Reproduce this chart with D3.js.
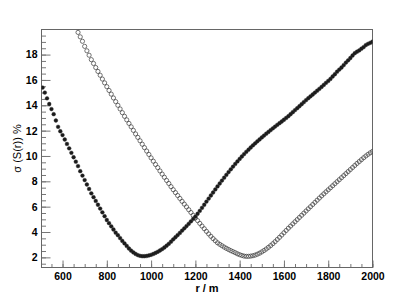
<!DOCTYPE html>
<html>
<head>
<meta charset="utf-8">
<script src="https://cdn.jsdelivr.net/npm/d3@7"></script>
<style>
  body { margin: 0; background: #fff; }
  svg { display: block; font-family: "Liberation Sans", Arial, sans-serif; }
</style>
</head>
<body>
<script>
  var width = 415;
  var height = 298;

  // filled circles
  var rFilled = [510,520,530,540,550,560,570,580,590,600,610,620,630,640,650,660,670,680,690,700,
    710,720,730,740,750,760,770,780,790,800,810,820,830,840,850,860,870,880,890,900,
    910,920,930,940,950,960,970,980,990,1000,1010,1020,1030,1040,1050,1060,1070,1080,1090,1100,
    1110,1120,1130,1140,1150,1160,1170,1180,1190,1200,1210,1220,1230,1240,1250,1260,1270,1280,1290,1300,
    1310,1320,1330,1340,1350,1360,1370,1380,1390,1400,1410,1420,1430,1440,1450,1460,1470,1480,1490,1500,
    1510,1520,1530,1540,1550,1560,1570,1580,1590,1600,1610,1620,1630,1640,1650,1660,1670,1680,1690,1700,
    1710,1720,1730,1740,1750,1760,1770,1780,1790,1800,1810,1820,1830,1840,1850,1860,1870,1880,1890,1900,
    1910,1920,1930,1940,1950,1960,1970,1980,1990,2000];
  var sigmaFilled = [15.4,15.0,14.55,14.1,13.7,13.3,12.8,12.3,11.95,11.65,11.3,10.95,10.6,10.25,9.9,9.55,9.2,8.8,8.45,8.1,
    7.75,7.4,7.05,6.75,6.45,6.15,5.85,5.55,5.25,4.95,4.7,4.45,4.2,3.95,3.75,3.52,3.3,3.1,2.9,2.7,
    2.53,2.39,2.27,2.18,2.12,2.09,2.09,2.11,2.15,2.2,2.27,2.35,2.44,2.54,2.65,2.78,2.92,3.07,3.24,3.42,
    3.59,3.76,3.93,4.11,4.29,4.47,4.65,4.84,5.03,5.22,5.44,5.67,5.91,6.15,6.4,6.64,6.88,7.12,7.36,7.6,
    7.83,8.06,8.29,8.51,8.73,8.95,9.16,9.37,9.57,9.77,9.96,10.15,10.33,10.5,10.67,10.84,11.0,11.16,11.31,11.46,
    11.61,11.76,11.9,12.04,12.18,12.32,12.46,12.59,12.72,12.86,13.0,13.14,13.3,13.46,13.62,13.77,13.93,14.09,14.25,14.41,
    14.56,14.71,14.85,15.0,15.15,15.3,15.45,15.61,15.77,15.92,16.08,16.27,16.45,16.65,16.82,16.98,17.17,17.37,17.55,17.73,
    17.93,18.11,18.23,18.33,18.47,18.59,18.75,18.85,18.93,19.03];

  // open circles
  var rOpen = [670,680,690,700,710,720,730,740,750,760,770,780,790,800,810,820,830,840,850,860,
    870,880,890,900,910,920,930,940,950,960,970,980,990,1000,1010,1020,1030,1040,1050,1060,
    1070,1080,1090,1100,1110,1120,1130,1140,1150,1160,1170,1180,1190,1200,1210,1220,1230,1240,1250,1260,
    1270,1280,1290,1300,1310,1320,1330,1340,1350,1360,1370,1380,1390,1400,1410,1420,1430,1440,1450,1460,
    1470,1480,1490,1500,1510,1520,1530,1540,1550,1560,1570,1580,1590,1600,1610,1620,1630,1640,1650,1660,
    1670,1680,1690,1700,1710,1720,1730,1740,1750,1760,1770,1780,1790,1800,1810,1820,1830,1840,1850,1860,
    1870,1880,1890,1900,1910,1920,1930,1940,1950,1960,1970,1980,1990,2000];
  var sigmaOpen = [19.75,19.4,19.05,18.65,18.3,17.95,17.6,17.3,16.98,16.67,16.37,16.07,15.77,15.47,15.17,14.88,14.58,14.29,14.0,13.71,
    13.42,13.13,12.85,12.57,12.3,12.02,11.74,11.47,11.2,10.93,10.66,10.39,10.12,9.85,9.59,9.33,9.08,8.82,8.57,8.32,
    8.07,7.83,7.58,7.34,7.11,6.88,6.65,6.42,6.2,5.98,5.76,5.54,5.32,5.11,4.9,4.68,4.47,4.26,4.05,3.85,
    3.66,3.48,3.31,3.15,3.03,2.92,2.81,2.71,2.62,2.53,2.45,2.37,2.28,2.21,2.15,2.1,2.08,2.08,2.1,2.13,
    2.18,2.25,2.33,2.43,2.54,2.66,2.79,2.93,3.08,3.24,3.41,3.58,3.76,3.94,4.12,4.3,4.47,4.64,4.81,4.98,
    5.15,5.32,5.49,5.66,5.83,6.0,6.17,6.34,6.51,6.68,6.85,7.01,7.17,7.33,7.49,7.65,7.81,7.97,8.13,8.29,
    8.45,8.61,8.77,8.93,9.09,9.25,9.41,9.56,9.71,9.86,10.0,10.13,10.25,10.36];

  var xTicks = [600, 800, 1000, 1200, 1400, 1600, 1800, 2000];
  var yTicks = [2, 4, 6, 8, 10, 12, 14, 16, 18];

  var plotLeft = 41.5, plotRight = 372.5, plotTop = 29.5, plotBottom = 267.5;

  var x = d3.scaleLinear().domain([505, 2000]).range([plotLeft, plotRight]);
  var y = d3.scaleLinear().domain([1.2, 19.98]).range([plotBottom, plotTop]);

  var svg = d3.select('body').append('svg')
    .attr('width', width)
    .attr('height', height);

  svg.append('defs').append('clipPath').attr('id', 'frame')
    .append('rect')
    .attr('x', plotLeft).attr('y', plotTop)
    .attr('width', plotRight - plotLeft).attr('height', plotBottom - plotTop);

  // minor ticks
  var xMinor = d3.range(550, 2001, 50);
  var yMinor = d3.range(1.5, 20, 0.5);

  function styleAxis(g) {
    g.select('.domain').remove();
    g.selectAll('.tick line').attr('stroke', '#777').attr('stroke-width', 1);
    g.selectAll('.tick text')
      .attr('fill', '#000')
      .style('font-size', '10.5px')
      .style('font-weight', 'bold');
  }

  svg.append('g')
    .attr('transform', 'translate(0,' + plotBottom + ')')
    .call(d3.axisBottom(x).tickValues(xMinor).tickSize(-3.5).tickFormat(''))
    .call(styleAxis);
  svg.append('g')
    .attr('transform', 'translate(0,' + plotBottom + ')')
    .call(d3.axisBottom(x).tickValues(xTicks).tickSize(-7).tickPadding(5).tickFormat(d3.format('d')))
    .call(styleAxis);

  svg.append('g')
    .attr('transform', 'translate(' + plotLeft + ',0)')
    .call(d3.axisLeft(y).tickValues(yMinor).tickSize(-4.5).tickFormat(''))
    .call(styleAxis);
  svg.append('g')
    .attr('transform', 'translate(' + plotLeft + ',0)')
    .call(d3.axisLeft(y).tickValues(yTicks).tickSize(-9).tickPadding(4).tickFormat(d3.format('d')))
    .call(styleAxis);

  // frame
  svg.append('rect')
    .attr('x', plotLeft).attr('y', plotTop)
    .attr('width', plotRight - plotLeft).attr('height', plotBottom - plotTop)
    .attr('fill', 'none')
    .attr('stroke', '#666')
    .attr('stroke-width', 1);

  var plot = svg.append('g').attr('clip-path', 'url(#frame)');

  var openData = rOpen.map(function(r, i) { return { r: r, s: sigmaOpen[i] }; });
  var filledData = rFilled.map(function(r, i) { return { r: r, s: sigmaFilled[i] }; });

  plot.selectAll('circle.open')
    .data(openData)
    .enter().append('circle')
    .attr('class', 'open')
    .attr('cx', d => x(d.r))
    .attr('cy', d => y(d.s))
    .attr('r', 2.1)
    .attr('fill', 'none')
    .attr('stroke', '#3a3a3a')
    .attr('stroke-width', 0.7);

  plot.selectAll('circle.filled')
    .data(filledData)
    .enter().append('circle')
    .attr('class', 'filled')
    .attr('cx', d => x(d.r))
    .attr('cy', d => y(d.s))
    .attr('r', 1.9)
    .attr('fill', '#1a1a1a')
    .attr('stroke', '#333')
    .attr('stroke-width', 0.4);

  // axis titles
  svg.append('text')
    .attr('x', (plotLeft + plotRight) / 2)
    .attr('y', 292)
    .attr('text-anchor', 'middle')
    .style('font-size', '11px')
    .style('font-weight', 'bold')
    .text('r / m');

  svg.append('text')
    .attr('transform', 'translate(21,' + ((plotTop + plotBottom) / 2) + ') rotate(-90)')
    .attr('text-anchor', 'middle')
    .style('font-size', '11px')
    .text('σ (S(r)) %');
</script>
</body>
</html>
